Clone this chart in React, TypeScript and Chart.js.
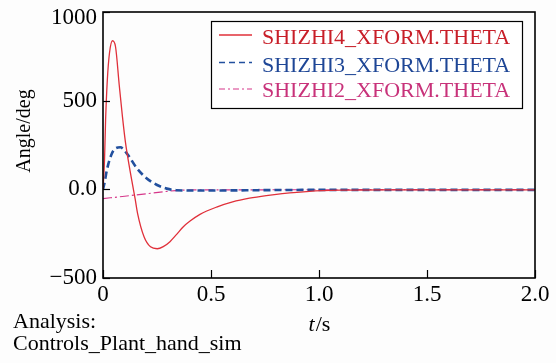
import React, { useEffect, useRef } from "react";
import { Chart, registerables } from "chart.js";

Chart.register(...registerables);

// ---- data ----
const seriesLabels = ["SHIZHI4_XFORM.THETA", "SHIZHI3_XFORM.THETA", "SHIZHI2_XFORM.THETA"];

const redT = [0, 0.007, 0.012, 0.02, 0.03, 0.044, 0.058, 0.075, 0.09, 0.104, 0.121, 0.137, 0.149, 0.16, 0.19, 0.22, 0.251, 0.279, 0.31, 0.341, 0.372, 0.403, 0.449, 0.526, 0.6, 0.678, 0.756, 0.83, 0.956, 1.1, 1.3, 2.0];
const redV = [0, 165, 391, 617, 769, 838, 804, 590, 410, 265, 135, 25, -55, -135, -267, -324, -335, -323, -295, -254, -211, -179, -141, -100, -71, -50, -35, -24, -11, -5, -3, -3];

const blueT = [0, 0.006, 0.018, 0.038, 0.053, 0.08, 0.115, 0.155, 0.2, 0.248, 0.295, 0.34, 0.45, 0.6, 0.8, 1.0, 2.0];
const blueV = [0, 30, 109, 193, 226, 237, 195, 122, 64, 26, 4, -5, -7, -6, -4, -3, -3];

const pinkT = [0, 0.1, 0.2, 0.3, 0.36, 0.45, 2.0];
const pinkV = [-52, -39, -25, -11, -5, -3, -2];

const xTicks = [0, 0.5, 1.0, 1.5, 2.0];
const yTicks = [-500, 0, 500, 1000];
const xTickLabels = ["0", "0.5", "1.0", "1.5", "2.0"];
const yTickLabels = ["\u2212500", "0.0", "500", "1000"];

const yTitle = "Angle/deg";
const xTitleItalic = "t";
const xTitleRest = "/s";
const noteLines = ["Analysis:", "Controls_Plant_hand_sim"];

const lineColors = ["#e0303a", "#22509e", "#d6378a"];
const textColors = ["#c81e28", "#1e4696", "#c8327a"];
const dashes = [[], [7, 4], [9, 3, 2, 3]];
const widths = [1.3, 2.6, 1.2];
const legendDashes = [[], [6, 4], [6, 3, 2, 3]];
const legendWidths = [1.3, 1.5, 1.2];

const FONT = '"Liberation Serif", "Times New Roman", serif';

const pts = (t: number[], v: number[]) => t.map((x, i) => ({ x, y: v[i] }));

const decorPlugin = {
  id: "decor",
  afterDraw(chart: any) {
    const { ctx, chartArea } = chart;
    const { left, right, top, bottom } = chartArea;
    const xs = chart.scales.x;
    const ys = chart.scales.y;
    ctx.save();

    // frame
    ctx.strokeStyle = "#000";
    ctx.lineWidth = 1.6;
    ctx.setLineDash([]);
    ctx.strokeRect(left, top, right - left, bottom - top);

    // inward ticks
    ctx.lineWidth = 1.2;
    xTicks.forEach((v) => {
      const px = Math.round(xs.getPixelForValue(v)) + 0.5;
      ctx.beginPath();
      ctx.moveTo(px, bottom);
      ctx.lineTo(px, bottom - 8);
      ctx.stroke();
    });
    yTicks.forEach((v) => {
      const py = Math.round(ys.getPixelForValue(v)) + 0.5;
      ctx.beginPath();
      ctx.moveTo(left, py);
      ctx.lineTo(left + 7, py);
      ctx.stroke();
    });

    // tick labels
    ctx.fillStyle = "#000";
    ctx.font = `23px ${FONT}`;
    ctx.textBaseline = "middle";
    ctx.textAlign = "center";
    xTicks.forEach((v, i) => {
      ctx.fillText(xTickLabels[i], xs.getPixelForValue(v), 295);
    });
    ctx.textAlign = "right";
    yTicks.forEach((v, i) => {
      const py = Math.max(ys.getPixelForValue(v), 18);
      ctx.fillText(yTickLabels[i], 97, py);
    });

    // y title
    ctx.save();
    ctx.translate(25, 131);
    ctx.rotate(-Math.PI / 2);
    ctx.font = `20px ${FONT}`;
    ctx.textAlign = "center";
    ctx.textBaseline = "middle";
    ctx.fillText(yTitle, 0, 0);
    ctx.restore();

    // x title
    ctx.textBaseline = "alphabetic";
    ctx.textAlign = "left";
    ctx.font = `italic 22px ${FONT}`;
    const w1 = ctx.measureText(xTitleItalic).width;
    ctx.font = `22px ${FONT}`;
    const w2 = ctx.measureText(xTitleRest).width;
    const cx = (left + right) / 2;
    const sx = cx - (w1 + w2) / 2;
    ctx.font = `italic 22px ${FONT}`;
    ctx.fillText(xTitleItalic, sx, 331);
    ctx.font = `22px ${FONT}`;
    ctx.fillText(xTitleRest, sx + w1 + 1, 331);

    // notes
    ctx.fillText(noteLines[0], 13, 328);
    ctx.fillText(noteLines[1], 13, 350);

    // legend
    const bx = 211, by = 21, bw = 311, bh = 87;
    ctx.fillStyle = "#fff";
    ctx.fillRect(bx, by, bw, bh);
    ctx.strokeStyle = "#000";
    ctx.lineWidth = 1.2;
    ctx.strokeRect(bx + 0.5, by + 0.5, bw, bh);
    const lineYs = [35, 62.5, 89];
    const baseYs = [44, 71.5, 97];
    chart.data.datasets.forEach((ds: any, i: number) => {
      ctx.strokeStyle = lineColors[i];
      ctx.lineWidth = legendWidths[i];
      ctx.setLineDash(legendDashes[i]);
      ctx.beginPath();
      ctx.moveTo(219, lineYs[i]);
      ctx.lineTo(252, lineYs[i]);
      ctx.stroke();
      ctx.setLineDash([]);
      ctx.fillStyle = textColors[i];
      ctx.font = `22px ${FONT}`;
      ctx.textBaseline = "alphabetic";
      ctx.textAlign = "left";
      ctx.fillText(ds.label, 262, baseYs[i]);
    });

    ctx.restore();
  },
};

const bgPlugin = {
  id: "bg",
  beforeDraw(chart: any) {
    const { ctx, width, height } = chart;
    ctx.save();
    ctx.fillStyle = "#fdfdfd";
    ctx.fillRect(0, 0, width, height);
    ctx.restore();
  },
};

export default function App() {
  const ref = useRef<HTMLCanvasElement | null>(null);

  useEffect(() => {
    if (!ref.current) return;
    const tList = [redT, blueT, pinkT];
    const vList = [redV, blueV, pinkV];
    const chart = new Chart(ref.current, {
      type: "line",
      data: {
        datasets: seriesLabels.map((label, i) => ({
          label,
          data: pts(tList[i], vList[i]),
          borderColor: lineColors[i],
          borderWidth: widths[i],
          borderDash: dashes[i],
          pointRadius: 0,
          fill: false,
          cubicInterpolationMode: "monotone" as const,
        })),
      },
      options: {
        animation: false,
        responsive: false,
        devicePixelRatio: 1,
        layout: { padding: { top: 12, right: 21, left: 0, bottom: 0 } },
        plugins: { legend: { display: false }, tooltip: { enabled: false } },
        scales: {
          x: {
            type: "linear",
            min: 0,
            max: 2,
            grid: { display: false },
            border: { display: false },
            ticks: { display: false },
            afterFit: (s: any) => {
              s.height = 85;
              s.paddingLeft = 0;
              s.paddingRight = 0;
            },
          },
          y: {
            type: "linear",
            min: -500,
            max: 1000,
            grid: { display: false },
            border: { display: false },
            ticks: { display: false },
            afterFit: (s: any) => {
              s.width = 103;
              s.paddingTop = 0;
              s.paddingBottom = 0;
            },
          },
        },
      },
      plugins: [bgPlugin, decorPlugin],
    });
    return () => chart.destroy();
  }, []);

  return (
    <div style={{ position: "fixed", left: 0, top: 0, width: 556, height: 363 }}>
      <canvas ref={ref} width={556} height={363} style={{ width: 556, height: 363 }} />
    </div>
  );
}
